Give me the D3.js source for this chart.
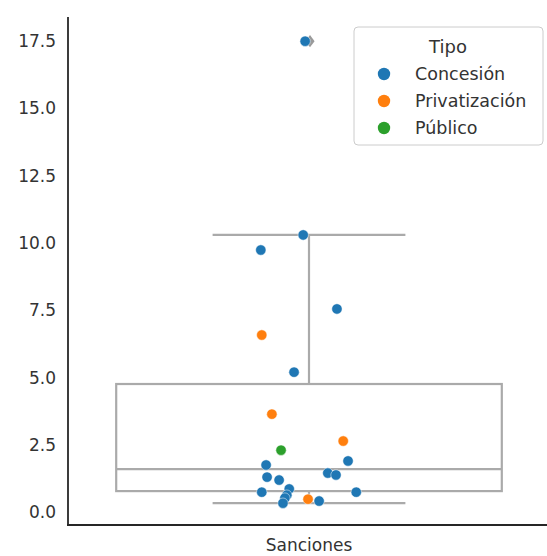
<!DOCTYPE html>
<html>
<head>
<meta charset="utf-8">
<script src="https://cdn.jsdelivr.net/npm/d3@7"></script>
<style>
  body { margin: 0; background: #fff; }
  text { font-family: "DejaVu Sans", sans-serif; fill: #333333; }
</style>
</head>
<body>
<script>
(function () {
  const category = ['Sanciones']
  const tipos = ['Concesión', 'Privatización', 'Público']
  const colores = ['#1f77b4', '#ff7f0e', '#2ca02c']
  const yTicks = [0, 2.5, 5, 7.5, 10, 12.5, 15, 17.5]

  // point values, their type and horizontal jitter (fraction of the band)
  const values = [17.5, 10.3, 9.74, 7.55, 6.58, 5.2, 3.64, 2.64, 2.3, 1.9, 1.75, 1.45,
                  1.38, 1.3, 1.19, 0.86, 0.74, 0.74, 0.63, 0.52, 0.33, 0.48, 0.41]
  const types = ['Concesión', 'Concesión', 'Concesión', 'Concesión', 'Privatización', 'Concesión',
                 'Privatización', 'Privatización', 'Público', 'Concesión', 'Concesión', 'Concesión',
                 'Concesión', 'Concesión', 'Concesión', 'Concesión', 'Concesión', 'Concesión',
                 'Concesión', 'Concesión', 'Concesión', 'Privatización', 'Concesión']
  const jitter = [-0.008, -0.012, -0.100, 0.058, -0.098, -0.031, -0.077, 0.071, -0.058, 0.081,
                  -0.089, 0.039, 0.056, -0.087, -0.062, -0.041, -0.098, 0.098, -0.046, -0.050,
                  -0.054, -0.002, 0.021]

  // box statistics: lower whisker, q1, median, q3, upper whisker
  const boxStats = [0.33, 0.78, 1.6, 4.76, 10.3]
  const outliers = [17.5]

  const W = 547, H = 556
  const svg = d3.select('body').append('svg')
                .attr('width', W)
                .attr('height', H)

  const x = d3.scaleBand().domain(category).range([68, 550])
  const y = d3.scaleLinear().domain([-0.48, 18.4]).range([525, 17])
  const color = d3.scaleOrdinal().domain(tipos).range(colores)

  // axes
  const yAxis = svg.append('g')
                   .attr('transform', 'translate(68,0)')
                   .call(d3.axisLeft(y).tickValues(yTicks).tickSize(0).tickPadding(12)
                           .tickFormat(d3.format('.1f')))
  yAxis.select('.domain').remove()
  yAxis.selectAll('text').style('font-size', '17px').style('fill', '#333333')

  const xAxis = svg.append('g')
                   .attr('transform', 'translate(0,525)')
                   .call(d3.axisBottom(x).tickSize(0).tickPadding(14))
  xAxis.select('.domain').remove()
  xAxis.selectAll('text').style('font-size', '17px').style('fill', '#333333')

  svg.append('line')
     .attr('x1', 68).attr('x2', 68).attr('y1', 17).attr('y2', 526)
     .attr('stroke', '#262626').attr('stroke-width', 1.8)
  svg.append('line')
     .attr('x1', 67).attr('x2', W).attr('y1', 525).attr('y2', 525)
     .attr('stroke', '#262626').attr('stroke-width', 1.8)

  // box
  const grey = '#aaaaaa'
  const cx = x('Sanciones') + x.bandwidth() / 2
  const bw = x.bandwidth() * 0.8
  const box = svg.append('g')
                 .attr('stroke', grey)
                 .attr('stroke-width', 2.2)
                 .attr('fill', 'none')
  box.append('rect')
     .attr('x', cx - bw / 2)
     .attr('y', y(boxStats[3]))
     .attr('width', bw)
     .attr('height', y(boxStats[1]) - y(boxStats[3]))
  box.append('line')
     .attr('x1', cx - bw / 2).attr('x2', cx + bw / 2)
     .attr('y1', y(boxStats[2])).attr('y2', y(boxStats[2]))
  box.append('line')
     .attr('x1', cx).attr('x2', cx)
     .attr('y1', y(boxStats[3])).attr('y2', y(boxStats[4]))
  box.append('line')
     .attr('x1', cx).attr('x2', cx)
     .attr('y1', y(boxStats[1])).attr('y2', y(boxStats[0]))
  box.selectAll('line.cap')
     .data([boxStats[0], boxStats[4]])
     .enter()
     .append('line')
     .attr('class', 'cap')
     .attr('x1', cx - bw / 4).attr('x2', cx + bw / 4)
     .attr('y1', d => y(d)).attr('y2', d => y(d))

  svg.selectAll('path.flier')
     .data(outliers)
     .enter()
     .append('path')
     .attr('class', 'flier')
     .attr('d', d3.symbol().type(d3.symbolDiamond).size(60))
     .attr('transform', d => `translate(${cx + 1},${y(d)}) scale(1.1,0.85)`)
     .attr('fill', '#9a9a9a')

  // points
  svg.selectAll('circle.pt')
     .data(values)
     .enter()
     .append('circle')
     .attr('class', 'pt')
     .attr('cx', (d, i) => cx + jitter[i] * x.bandwidth())
     .attr('cy', d => y(d))
     .attr('r', 5.2)
     .attr('fill', (d, i) => color(types[i]))
     .attr('stroke', '#fff')
     .attr('stroke-width', 0.5)

  // legend
  const lg = svg.append('g').attr('transform', 'translate(354,27)')
  lg.append('rect')
    .attr('width', 189).attr('height', 118)
    .attr('rx', 4)
    .attr('fill', '#fff').attr('fill-opacity', 0.8)
    .attr('stroke', '#cccccc').attr('stroke-width', 1)
  lg.append('text')
    .attr('x', 94).attr('y', 19)
    .attr('text-anchor', 'middle')
    .attr('dominant-baseline', 'central')
    .style('font-size', '18px')
    .text('Tipo')
  const items = lg.selectAll('g.item')
                  .data(tipos)
                  .enter()
                  .append('g')
                  .attr('class', 'item')
                  .attr('transform', (d, i) => `translate(0,${47 + i * 27})`)
  items.append('circle')
       .attr('cx', 30).attr('cy', 0).attr('r', 6.2)
       .attr('fill', d => color(d))
  items.append('text')
       .attr('x', 61).attr('y', 0)
       .attr('dominant-baseline', 'central')
       .style('font-size', '17.5px')
       .text(d => d)
})()
</script>
</body>
</html>
